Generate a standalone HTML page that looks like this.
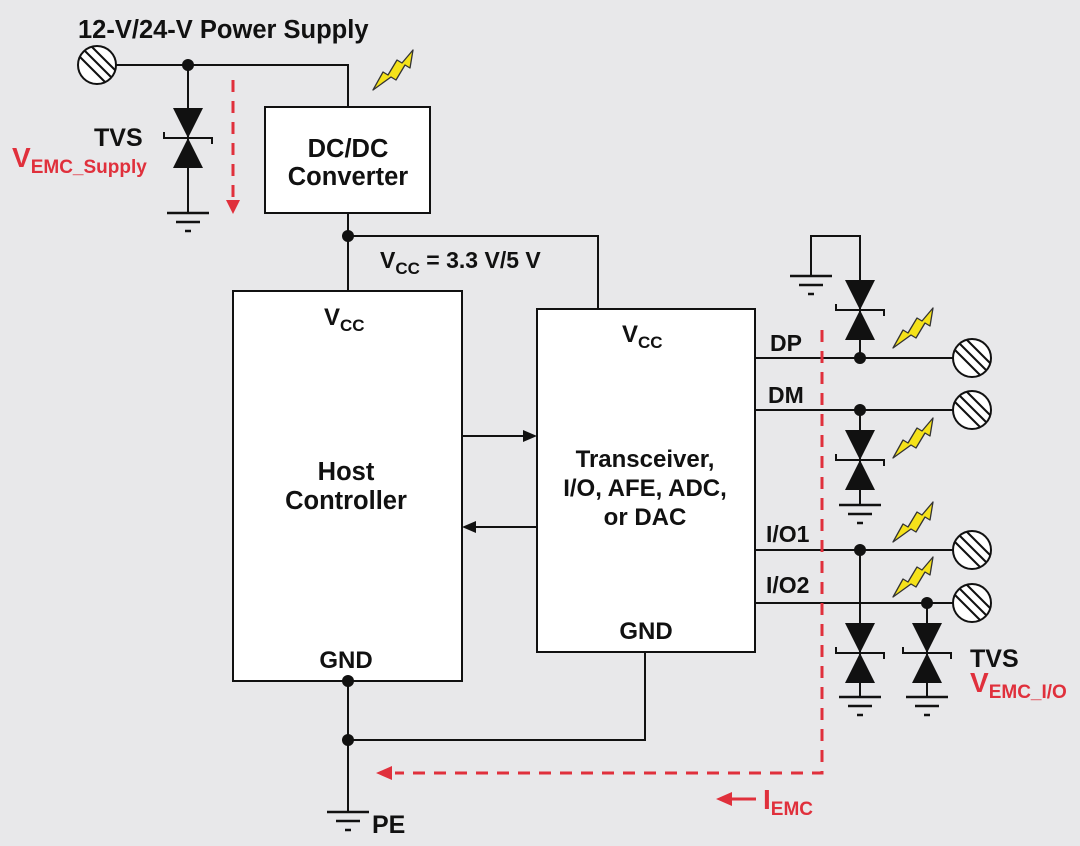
<!DOCTYPE html>
<html><head><meta charset="utf-8"><style>
html,body{margin:0;padding:0;background:#e8e8ea;}
svg{display:block;}
text{font-family:"Liberation Sans",Arial,sans-serif;font-weight:bold;fill:#111;}
.r{fill:#e0303c;}
</style></head><body>
<svg width="1080" height="846" viewBox="0 0 1080 846" xmlns="http://www.w3.org/2000/svg">
<defs>
<g id="tvs">
<polygon points="-15,-30 15,-30 0,0" fill="#111"/>
<polygon points="0,0 -15,30 15,30" fill="#111"/>
<polyline points="-24,-6 -24,0 24,0 24,6" fill="none" stroke="#111" stroke-width="2"/>
</g>
<g id="term">
<circle r="19" fill="#fff" stroke="#111" stroke-width="2"/>
<line x1="-17" y1="-8" x2="8" y2="17" stroke="#111" stroke-width="2"/>
<line x1="-12" y1="-14" x2="14" y2="12" stroke="#111" stroke-width="2"/>
<line x1="-5" y1="-18" x2="18" y2="5" stroke="#111" stroke-width="2"/>
</g>
<g id="gnd" stroke="#111" stroke-width="2.5">
<line x1="-21" y1="0" x2="21" y2="0"/>
<line x1="-12" y1="9" x2="12" y2="9"/>
<line x1="-3" y1="18" x2="3" y2="18"/>
</g>
<g id="bolt">
<polygon points="0,40 10,22 15,25 24,10 29,13 40,0 37,18 32,15 23,30 18,27" fill="#f5e21a" stroke="#333" stroke-width="1.3" stroke-linejoin="round"/>
</g>
</defs>

<g stroke="#111" stroke-width="2" fill="none">
<polyline points="116,65 348,65 348,107"/>
<line x1="188" y1="65" x2="188" y2="213"/>
<polyline points="348,213 348,291"/>
<polyline points="348,236 598,236 598,309"/>
<rect x="265" y="107" width="165" height="106" fill="#fff"/>
<rect x="233" y="291" width="229" height="390" fill="#fff"/>
<rect x="537" y="309" width="218" height="343" fill="#fff"/>
<line x1="462" y1="436" x2="524" y2="436"/>
<line x1="537" y1="527" x2="476" y2="527"/>
<line x1="348" y1="681" x2="348" y2="812"/>
<polyline points="348,740 645,740 645,652"/>
<line x1="755" y1="358" x2="953" y2="358"/>
<line x1="755" y1="410" x2="953" y2="410"/>
<line x1="755" y1="550" x2="953" y2="550"/>
<line x1="755" y1="603" x2="953" y2="603"/>
<polyline points="811,276 811,236 860,236 860,358"/>
<line x1="860" y1="410" x2="860" y2="505"/>
<line x1="860" y1="550" x2="860" y2="697"/>
<line x1="927" y1="603" x2="927" y2="697"/>
</g>
<polygon points="537,436 523,430 523,442" fill="#111"/>
<polygon points="462,527 476,521 476,533" fill="#111"/>

<g fill="#111">
<circle cx="188" cy="65" r="6"/>
<circle cx="348" cy="236" r="6"/>
<circle cx="348" cy="681" r="6"/>
<circle cx="348" cy="740" r="6"/>
<circle cx="860" cy="358" r="6"/>
<circle cx="860" cy="410" r="6"/>
<circle cx="860" cy="550" r="6"/>
<circle cx="927" cy="603" r="6"/>
</g>

<use href="#tvs" x="188" y="138"/>
<use href="#tvs" x="860" y="310"/>
<use href="#tvs" x="860" y="460"/>
<use href="#tvs" x="860" y="653"/>
<use href="#tvs" x="927" y="653"/>

<use href="#gnd" x="188" y="213"/>
<use href="#gnd" x="811" y="276"/>
<use href="#gnd" x="860" y="505"/>
<use href="#gnd" x="860" y="697"/>
<use href="#gnd" x="927" y="697"/>
<use href="#gnd" x="348" y="812"/>

<use href="#term" x="97" y="65"/>
<use href="#term" x="972" y="358"/>
<use href="#term" x="972" y="410"/>
<use href="#term" x="972" y="550"/>
<use href="#term" x="972" y="603"/>

<use href="#bolt" x="373" y="50"/>
<use href="#bolt" x="893" y="308"/>
<use href="#bolt" x="893" y="418"/>
<use href="#bolt" x="893" y="502"/>
<use href="#bolt" x="893" y="557"/>

<g stroke="#e0303c" stroke-width="3" fill="none" stroke-dasharray="12,9">
<line x1="233" y1="80" x2="233" y2="200"/>
<polyline points="822,330 822,773 395,773"/>
</g>
<polygon points="226,200 240,200 233,214" fill="#e0303c"/>
<polygon points="376,773 392,766 392,780" fill="#e0303c"/>
<line x1="732" y1="799" x2="756" y2="799" stroke="#e0303c" stroke-width="3"/>
<polygon points="716,799 732,792 732,806" fill="#e0303c"/>

<text x="78" y="38" font-size="25.5">12-V/24-V Power Supply</text>
<text x="94" y="146" font-size="25">TVS</text>
<text x="12" y="167" font-size="28" class="r">V<tspan font-size="19" dy="6">EMC_Supply</tspan></text>
<text x="348" y="157" font-size="25.5" text-anchor="middle">DC/DC</text>
<text x="348" y="185" font-size="25.5" text-anchor="middle">Converter</text>
<text x="380" y="268" font-size="23">V<tspan font-size="17" dy="6">CC</tspan><tspan dy="-6"> = 3.3 V/5 V</tspan></text>
<text x="324" y="325" font-size="24">V<tspan font-size="17" dy="6">CC</tspan></text>
<text x="346" y="480" font-size="25.5" text-anchor="middle">Host</text>
<text x="346" y="509" font-size="25.5" text-anchor="middle">Controller</text>
<text x="346" y="668" font-size="24" text-anchor="middle">GND</text>
<text x="622" y="342" font-size="24">V<tspan font-size="17" dy="6">CC</tspan></text>
<text x="645" y="467" font-size="24" text-anchor="middle">Transceiver,</text>
<text x="645" y="496" font-size="24" text-anchor="middle">I/O, AFE, ADC,</text>
<text x="645" y="525" font-size="24" text-anchor="middle">or DAC</text>
<text x="646" y="639" font-size="24" text-anchor="middle">GND</text>
<text x="770" y="351" font-size="23">DP</text>
<text x="768" y="403" font-size="23">DM</text>
<text x="766" y="542" font-size="23">I/O1</text>
<text x="766" y="593" font-size="23">I/O2</text>
<text x="970" y="667" font-size="25">TVS</text>
<text x="970" y="692" font-size="28" class="r">V<tspan font-size="19" dy="6">EMC_I/O</tspan></text>
<text x="372" y="833" font-size="25">PE</text>
<text x="763" y="809" font-size="28" class="r">I<tspan font-size="19" dy="6">EMC</tspan></text>
</svg>
</body></html>
